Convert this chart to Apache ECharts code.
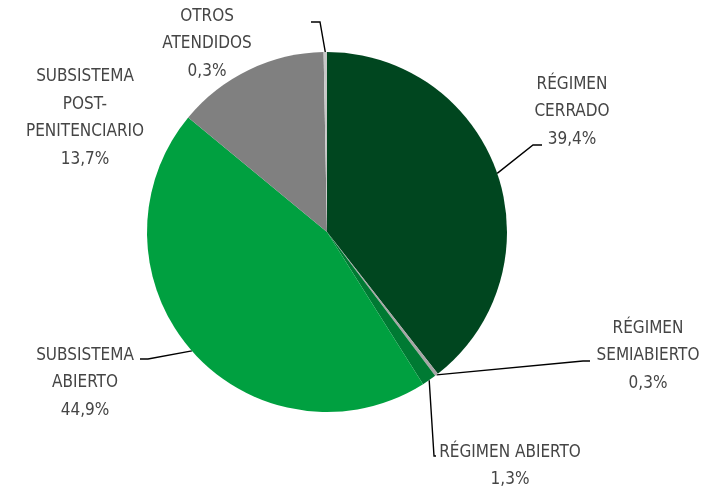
<!DOCTYPE html>
<html><head><meta charset="utf-8">
<script src="https://cdn.jsdelivr.net/npm/echarts@6/dist/echarts.min.js"></script>
<style>html,body{margin:0;padding:0;background:#fff}#c{width:720px;height:490px}</style>
</head><body><div id="c"></div>
<script>
const categories = ['RÉGIMEN\nCERRADO', 'RÉGIMEN\nSEMIABIERTO', 'RÉGIMEN ABIERTO', 'SUBSISTEMA\nABIERTO', 'SUBSISTEMA\nPOST-\nPENITENCIARIO', 'OTROS\nATENDIDOS'];
const values = [39.4, 0.3, 1.3, 44.9, 13.7, 0.3];
const valueLabels = ['39,4%', '0,3%', '1,3%', '44,9%', '13,7%', '0,3%'];
const colors = ['#00461F', '#A6A6A6', '#007A33', '#00A040', '#808080', '#C8C8C8'];

// label placement (styling): center x, center y, line elbow, line end
const labelPos = [
  {x: 572, y: 112, elbow: [533, 145], end: [542, 145]},
  {x: 648, y: 356, elbow: [583, 361], end: [590, 361]},
  {x: 510, y: 466, elbow: [434, 456], end: [436, 456]},
  {x: 85,  y: 383, elbow: [148, 359], end: [140, 359]},
  {x: 85,  y: 118, elbow: null, end: null},
  {x: 207, y: 44,  elbow: [320, 22], end: [311, 22]}
];

const chart = echarts.init(document.getElementById('c'), null, {renderer: 'canvas'});
chart.setOption({
  backgroundColor: '#ffffff',
  animation: false,
  series: [{
    type: 'pie',
    center: [327, 232],
    radius: 180,
    startAngle: 90,
    clockwise: true,
    avoidLabelOverlap: false,
    data: categories.map((c, i) => ({
      name: c, value: values[i],
      itemStyle: {color: colors[i]},
      labelLine: {show: labelPos[i].elbow !== null}
    })),
    label: {
      show: true,
      position: 'outside',
      formatter: p => p.name + '\n' + valueLabels[p.dataIndex],
      fontFamily: '"Liberation Sans Narrow", "DejaVu Sans Condensed", sans-serif',
      fontSize: 17,
      lineHeight: 27.5,
      color: '#454545',
      align: 'center'
    },
    labelLine: {
      show: true,
      lineStyle: {color: '#000000', width: 1.4}
    },
    labelLayout: function (params) {
      const lp = labelPos[params.dataIndex];
      const res = {x: lp.x, y: lp.y, align: 'center', verticalAlign: 'middle'};
      if (lp.elbow && params.labelLinePoints) {
        res.labelLinePoints = [params.labelLinePoints[0], lp.elbow, lp.end];
      }
      return res;
    }
  }]
});
</script></body></html>
